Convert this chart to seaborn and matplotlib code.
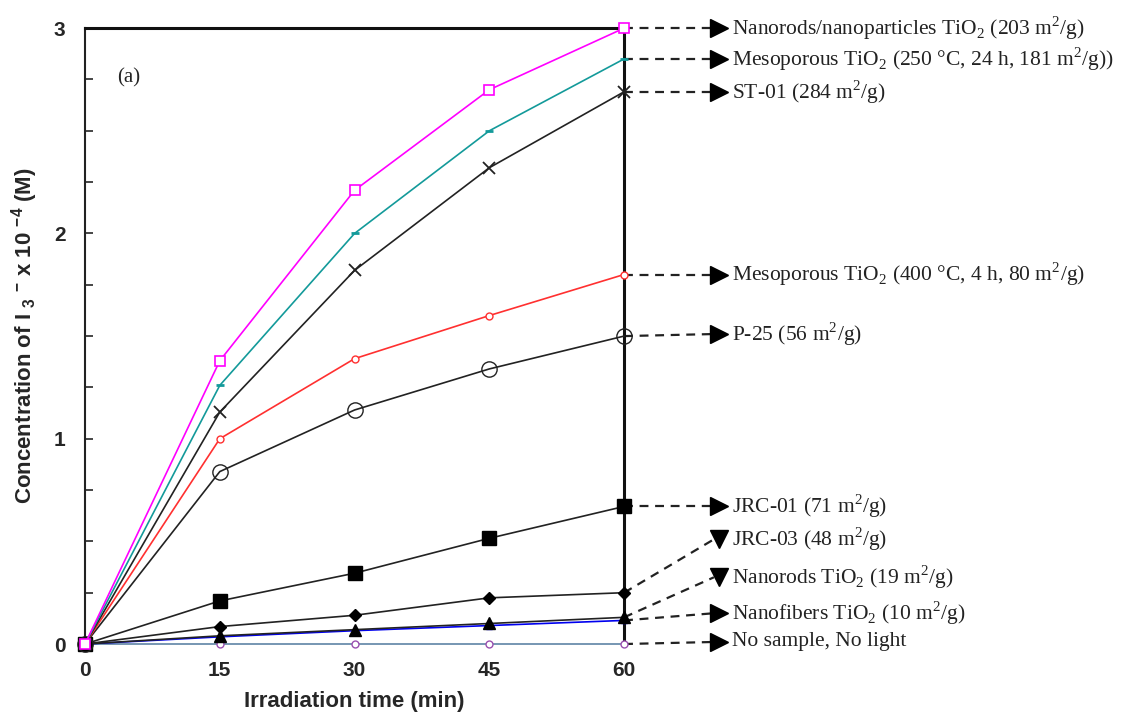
import numpy as np
import pandas as pd
import matplotlib
matplotlib.use('Agg')
import matplotlib.pyplot as plt
import seaborn as sns

# ── Data ─────────────────────────────────────────────────────────────────────
time_min = [0, 15, 30, 45, 60]

nanorods_np  = [0, 1.38, 2.21, 2.70, 3.00]
meso_250     = [0, 1.26, 2.00, 2.50, 2.85]
st01         = [0, 1.13, 1.82, 2.32, 2.69]
meso_400     = [0, 1.00, 1.39, 1.60, 1.80]
p25          = [0, 0.84, 1.14, 1.34, 1.50]
jrc01        = [0, 0.21, 0.345, 0.515, 0.67]
jrc03        = [0, 0.085, 0.14, 0.225, 0.25]
nanorods_19  = [0, 0.04, 0.07, 0.10, 0.13]
nanofibers   = [0, 0.035, 0.065, 0.09, 0.115]
no_sample    = [0, 0, 0, 0, 0]

series_names = [
    r"Nanorods/nanoparticles TiO$_\mathrm{2}$ (203 m$^\mathrm{2}$/g)",
    r"Mesoporous TiO$_\mathrm{2}$ (250 °C, 24 h, 181 m$^\mathrm{2}$/g))",
    r"ST-01 (284 m$^\mathrm{2}$/g)",
    r"Mesoporous TiO$_\mathrm{2}$ (400 °C, 4 h, 80 m$^\mathrm{2}$/g)",
    r"P-25 (56 m$^\mathrm{2}$/g)",
    r"JRC-01 (71 m$^\mathrm{2}$/g)",
    r"JRC-03 (48 m$^\mathrm{2}$/g)",
    r"Nanorods TiO$_\mathrm{2}$ (19 m$^\mathrm{2}$/g)",
    r"Nanofibers TiO$_\mathrm{2}$ (10 m$^\mathrm{2}$/g)",
    "No sample, No light",
]
series_values = [nanorods_np, meso_250, st01, meso_400, p25,
                 jrc01, jrc03, nanorods_19, nanofibers, no_sample]

# where each callout label sits (y in data units)
label_y = [3.0, 2.85, 2.69, 1.80, 1.51, 0.67, 0.51, 0.325, 0.15, 0.01]

# ── Style ────────────────────────────────────────────────────────────────────
sns.set_style('white')
plt.rcParams.update({
    'font.family': ['Liberation Sans', 'DejaVu Sans'],
    'mathtext.fontset': 'custom',
    'mathtext.rm': 'Liberation Serif',
    'mathtext.bf': 'Liberation Sans:bold',
})

STYLES = [
    dict(color='#ff00ff', marker='s', ms=7, mfc='white', mec='#ff00ff', mew=1.2),
    dict(color='#139a9a', marker='_', ms=6, mfc='#139a9a', mec='#139a9a', mew=2),
    dict(color='#222222', marker='x', ms=9, mfc='none', mec='#222222', mew=1.3),
    dict(color='#ff3030', marker='o', ms=5, mfc='white', mec='#ff3030', mew=1.0),
    dict(color='#222222', marker='o', ms=11, mfc='none', mec='#222222', mew=1.0),
    dict(color='#222222', marker='s', ms=10, mfc='black', mec='black', mew=1.0),
    dict(color='#222222', marker='D', ms=6, mfc='black', mec='black', mew=1.0),
    dict(color='#222222', marker='^', ms=9, mfc='black', mec='black', mew=1.0),
    dict(color='#0000ee', marker='^', ms=4, mfc='#0000ee', mec='#0000ee', mew=1.0),
    dict(color='#5f84a6', marker='o', ms=5, mfc='white', mec='#9a4fb0', mew=1.0),
]
# marker used at the end of each callout
ARROW_MARK = ['>', '>', '>', '>', '>', '>', 'v', 'v', '>', '>']

fig = plt.figure(figsize=(11.22, 7.22), dpi=100)
ax = fig.add_axes([0.0758, 0.108, 0.4804, 0.853])

# draw bottom-up so the top series' marker sits on top at t = 0
for name, vals, st in reversed(list(zip(series_names, series_values, STYLES))):
    df = pd.DataFrame({'t': time_min, 'c': vals})
    sns.lineplot(data=df, x='t', y='c', ax=ax, color=st['color'], lw=1.2,
                 marker=st['marker'], markersize=st['ms'],
                 markerfacecolor=st['mfc'], markeredgecolor=st['mec'],
                 markeredgewidth=st['mew'], clip_on=False, zorder=3)

ax.set_xlim(0, 60)
ax.set_ylim(0, 3)

# callouts: dashed line from last point to a triangle and a label
x_end = time_min[-1]
for name, vals, ly, mk in zip(series_names, series_values, label_y, ARROW_MARK):
    tip_x = 70.6
    ax.plot([x_end, tip_x - 0.6], [vals[-1], ly], ls=(0, (4, 3)), lw=1.6,
            color='#222222', clip_on=False, zorder=2)
    ax.plot([tip_x], [ly], marker=mk, ms=13, color='black', clip_on=False,
            zorder=4)
    ax.text(72.0, ly, name, fontsize=15.5, family='Liberation Serif',
            va='center', ha='left', color='#222222')

ax.text(3.6, 2.76, '(a)', fontsize=15, family='Liberation Serif',
        va='center', ha='left')

# axes styling
ax.set_xticks(time_min)
ax.set_xticklabels([str(t) for t in time_min], fontsize=15, fontweight='bold')
ax.tick_params(axis='x', length=0, pad=12)
yt = np.arange(0, 3.01, 0.25)
ax.set_yticks(yt)
ax.set_yticklabels([str(int(v)) if v == int(v) else '' for v in yt],
                   fontsize=15, fontweight='bold')
ax.tick_params(axis='y', direction='in', length=6, width=1.2, pad=14,
               left=True)

for side in ('top', 'right'):
    ax.spines[side].set_linewidth(2.2)
    ax.spines[side].set_color('#111111')
ax.spines['left'].set_linewidth(1.5)
ax.spines['left'].set_color('#222222')
ax.spines['bottom'].set_visible(False)

ax.set_xlabel('Irradiation time (min)', fontsize=16, fontweight='bold',
              labelpad=8)
ax.set_ylabel(r'Concentration of I $_{\mathbf{3}}$ $^{\mathbf{-}}$ x 10 $^{\mathbf{-4}}$ (M)',
              fontsize=16, fontweight='bold', labelpad=10)

fig.savefig('out.png', dpi=100)
